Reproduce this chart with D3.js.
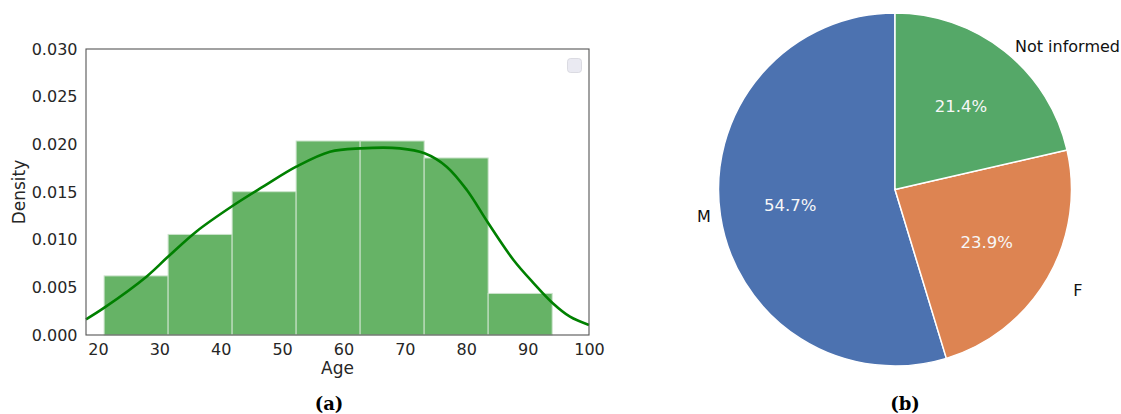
<!DOCTYPE html>
<html>
<head>
<meta charset="utf-8">
<script src="https://cdn.jsdelivr.net/npm/d3@7"></script>
<style>
  html, body { margin: 0; padding: 0; background: #fff; }
  svg { display: block; }
  text { font-family: "DejaVu Sans", sans-serif; }
</style>
</head>
<body>
<svg id="fig" width="1121" height="414"></svg>
<script>
// ---- Age distribution (density histogram, 7 bins) ----
const ageRange = [21, 94];
const binDensity = [0.0062, 0.01055, 0.01503, 0.02035, 0.02035, 0.01857, 0.00436];

// Kernel density estimate of age, sampled along the curve
const kdeAge     = [18.05, 21.1, 27.9, 31.4, 36.0, 41.9, 46.9, 52.3, 57.8, 62.8, 69.2, 73.2, 76.8, 80.1, 83.6, 87.7, 91.0, 94.1, 96.9, 100];
const kdeDensity = [0.00165, 0.0029, 0.00612, 0.0082, 0.01084, 0.01353, 0.01556, 0.01766, 0.01923, 0.01958, 0.01958, 0.01906, 0.01766, 0.01521, 0.01172, 0.00787, 0.00542, 0.00333, 0.00192, 0.00105];

const xTicks = [20, 30, 40, 50, 60, 70, 80, 90, 100];
const yTicks = [0, 0.005, 0.010, 0.015, 0.020, 0.025, 0.030];

// ---- Sex distribution (pie) ----
const sexLabels  = ["M", "F", "Not informed"];
const sexPercent = [54.7, 23.9, 21.4];
const sexColors  = ["#4c72b0", "#dd8452", "#55a868"];

const svg = d3.select("#fig");
const ink = "#262626";

// ===== Panel (a): histogram + KDE =====
const plot = { left: 86, right: 589, top: 49, bottom: 335 };
const x = d3.scaleLinear().domain([18.05, 100]).range([plot.left, plot.right]);
const y = d3.scaleLinear().domain([0, 0.030]).range([plot.bottom, plot.top]);

const binWidth = (ageRange[1] - ageRange[0]) / binDensity.length;
const bins = binDensity.map((d, i) => ({
  x0: ageRange[0] + i * binWidth,
  x1: ageRange[0] + (i + 1) * binWidth,
  density: d
}));

const gA = svg.append("g");

gA.selectAll("rect.bar")
  .data(bins)
  .join("rect")
  .attr("class", "bar")
  .attr("x", d => x(d.x0))
  .attr("width", d => x(d.x1) - x(d.x0))
  .attr("y", d => y(d.density))
  .attr("height", d => y(0) - y(d.density))
  .attr("fill", "#66b366")
  .attr("stroke", "#cce3cc")
  .attr("stroke-width", 1);

const kdeLine = d3.line()
  .x(d => x(d[0]))
  .y(d => y(d[1]))
  .curve(d3.curveCatmullRom.alpha(0.5));

gA.append("path")
  .datum(d3.zip(kdeAge, kdeDensity))
  .attr("d", kdeLine)
  .attr("fill", "none")
  .attr("stroke", "#008000")
  .attr("stroke-width", 2.6)
  .attr("stroke-linejoin", "round");

// Axes (labels only, no tick marks)
const xAxis = d3.axisBottom(x).tickValues(xTicks).tickFormat(d3.format("d")).tickSize(0).tickPadding(9);
const yAxis = d3.axisLeft(y).tickValues(yTicks).tickFormat(d3.format(".3f")).tickSize(0).tickPadding(8.5);

const gx = gA.append("g").attr("transform", `translate(0,${plot.bottom})`).call(xAxis);
const gy = gA.append("g").attr("transform", `translate(${plot.left},0)`).call(yAxis);
[gx, gy].forEach(g => {
  g.select(".domain").remove();
  g.selectAll("text")
    .attr("fill", ink)
    .style("font-family", "'DejaVu Sans', sans-serif")
    .style("font-size", "16px");
});

// Frame
gA.append("rect")
  .attr("x", plot.left)
  .attr("y", plot.top)
  .attr("width", plot.right - plot.left)
  .attr("height", plot.bottom - plot.top)
  .attr("fill", "none")
  .attr("stroke", "#555")
  .attr("stroke-width", 1.1);

// Empty legend frame
gA.append("rect")
  .attr("x", plot.right - 21.5)
  .attr("y", plot.top + 9.5)
  .attr("width", 14)
  .attr("height", 14)
  .attr("rx", 3)
  .attr("fill", "#eaeaf2")
  .attr("stroke", "#d4d4dc")
  .attr("stroke-width", 0.8);

// Axis titles
gA.append("text")
  .attr("x", (plot.left + plot.right) / 2)
  .attr("y", 374)
  .attr("text-anchor", "middle")
  .attr("fill", ink)
  .style("font-size", "17px")
  .text("Age");

gA.append("text")
  .attr("transform", `translate(25,${(plot.top + plot.bottom) / 2}) rotate(-90)`)
  .attr("text-anchor", "middle")
  .attr("fill", ink)
  .style("font-size", "17px")
  .text("Density");

// ===== Panel (b): pie =====
const cx = 895, cy = 189.5, r = 176.5;
const gB = svg.append("g").attr("transform", `translate(${cx},${cy})`);

const pie = d3.pie().sort(null).startAngle(0).endAngle(-2 * Math.PI);
const arcs = pie(sexPercent).map((a, i) => ({ ...a, label: sexLabels[i], color: sexColors[i] }));
const arc = d3.arc().innerRadius(0).outerRadius(r);

gB.selectAll("path.slice")
  .data(arcs)
  .join("path")
  .attr("class", "slice")
  .attr("d", arc)
  .attr("fill", d => d.color)
  .attr("stroke", "#fff")
  .attr("stroke-width", 1.5)
  .attr("stroke-linejoin", "round");

const mid = d => (d.startAngle + d.endAngle) / 2;

// Percentages inside the slices
gB.selectAll("text.pct")
  .data(arcs)
  .join("text")
  .attr("class", "pct")
  .attr("x", d => Math.sin(mid(d)) * r * 0.6)
  .attr("y", d => -Math.cos(mid(d)) * r * 0.6)
  .attr("text-anchor", "middle")
  .attr("dominant-baseline", "central")
  .attr("fill", "#f7f7f7")
  .style("font-size", "16.5px")
  .text(d => d3.format(".1f")(d.value) + "%");

// Category labels outside the pie, with small hand-tuned nudges
const labelNudge = { "M": [0, 0], "F": [17, 8], "Not informed": [4, 3] };
gB.selectAll("text.lbl")
  .data(arcs)
  .join("text")
  .attr("class", "lbl")
  .attr("x", d => Math.sin(mid(d)) * r * 1.055 + labelNudge[d.label][0])
  .attr("y", d => -Math.cos(mid(d)) * r * 1.055 + labelNudge[d.label][1])
  .attr("text-anchor", d => Math.sin(mid(d)) > 0 ? "start" : "end")
  .attr("dominant-baseline", "central")
  .attr("fill", "#111")
  .style("font-size", "16px")
  .text(d => d.label);

// ===== Panel captions =====
svg.selectAll("text.cap")
  .data([{ t: "(a)", x: 329 }, { t: "(b)", x: 905 }])
  .join("text")
  .attr("class", "cap")
  .attr("x", d => d.x)
  .attr("y", 410)
  .attr("text-anchor", "middle")
  .attr("fill", "#000")
  .style("font-family", "'DejaVu Serif', serif")
  .style("font-weight", "bold")
  .style("font-size", "18px")
  .text(d => d.t);
</script>
</body>
</html>
